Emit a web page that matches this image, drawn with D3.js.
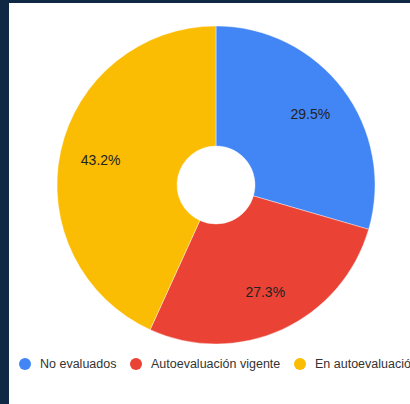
<!DOCTYPE html>
<html><head><meta charset="utf-8">
<script src="https://cdn.jsdelivr.net/npm/d3@7"></script>
<style>
html,body{margin:0;padding:0;background:#0f2844;}
svg{display:block;}
</style></head><body>
<svg id="chart" width="410" height="404"></svg>
<script>
const categories = ["No evaluados", "Autoevaluación vigente", "En autoevaluación"];
const values = [29.5, 27.3, 43.2];
const labels = ["29.5%", "27.3%", "43.2%"];
const colors = ["#4285F4", "#EA4335", "#FBBC04"];

const svg = d3.select("#chart");
svg.append("rect").attr("x", 0).attr("y", 0).attr("width", 410).attr("height", 404).attr("fill", "#0f2844");
svg.append("rect").attr("x", 9).attr("y", 3).attr("width", 401).attr("height", 401).attr("fill", "#ffffff");

const cx = 216, cy = 185, r = 159, inner = 39;
const pie = d3.pie().sort(null).value(d => d)(values);
const arc = d3.arc().innerRadius(inner).outerRadius(r);
const labelArc = d3.arc().innerRadius(118).outerRadius(118);

const g = svg.append("g").attr("transform", `translate(${cx},${cy})`);
g.selectAll("path").data(pie).join("path")
  .attr("d", arc).attr("fill", (d, i) => colors[i])
  .attr("stroke", "#ffffff").attr("stroke-width", 0.4);
g.selectAll("text").data(pie).join("text")
  .attr("transform", d => `translate(${labelArc.centroid(d)})`)
  .attr("text-anchor", "middle").attr("dy", "0.35em")
  .attr("font-family", "Liberation Sans, Arial, sans-serif").attr("font-size", 14)
  .attr("fill", "#222222")
  .text((d, i) => labels[i]);

const legendX = [25, 136, 300];
const lg = svg.append("g");
categories.forEach((c, i) => {
  lg.append("circle").attr("cx", legendX[i]).attr("cy", 364).attr("r", 6).attr("fill", colors[i]);
  lg.append("text").attr("x", legendX[i] + 15).attr("y", 364).attr("dy", "0.35em")
    .attr("font-family", "Liberation Sans, Arial, sans-serif").attr("font-size", 12.5)
    .attr("fill", "#333333").text(c);
});
</script>
</body></html>
